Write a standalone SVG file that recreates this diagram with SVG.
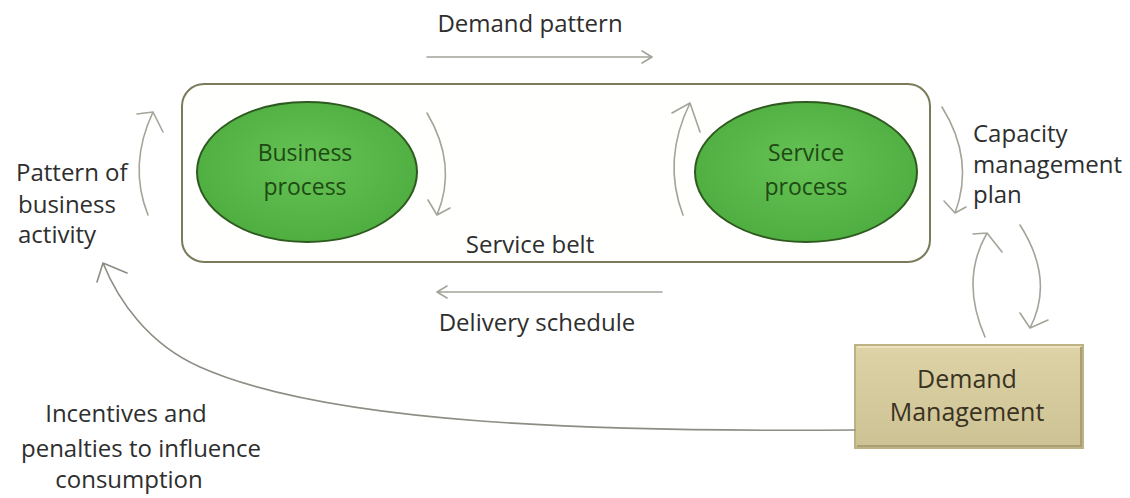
<svg xmlns="http://www.w3.org/2000/svg" width="1130" height="498" viewBox="0 0 1130 498">
<style>
.t{font-family:"Open Sans","Liberation Sans",sans-serif;font-size:24px;fill:#2e2e2e}
.g{font-family:"Open Sans","Liberation Sans",sans-serif;font-size:23px;fill:#1e4a14;text-anchor:middle}
.d{font-family:"Open Sans","Liberation Sans",sans-serif;font-size:25px;fill:#3a3322;text-anchor:middle}
.c{fill:none;stroke:#a4a49a;stroke-width:1.6;stroke-linecap:round;stroke-linejoin:round}
.l{fill:none;stroke:#8d8d84;stroke-width:1.6;stroke-linecap:round;stroke-linejoin:round}
</style>
<defs>
<radialGradient id="gr" cx="50%" cy="45%" r="55%">
<stop offset="0" stop-color="#66c255"/>
<stop offset="1" stop-color="#4fae40"/>
</radialGradient>
<linearGradient id="tan" x1="0" y1="0" x2="0" y2="1">
<stop offset="0" stop-color="#ddd3a6"/>
<stop offset="1" stop-color="#cdc294"/>
</linearGradient>
</defs>
<rect width="1130" height="498" fill="#ffffff"/>
<g id="service-belt">
<rect x="182" y="84" width="748" height="178" rx="22" fill="#fffffd" stroke="#7b7b5c" stroke-width="2"/>
<text class="t" x="530" y="253" text-anchor="middle">Service belt</text>
</g>
<g id="business-process">
<ellipse cx="307" cy="172" rx="110" ry="70" fill="url(#gr)" stroke="#2e5a20" stroke-width="2"/>
<text class="g" x="305" y="161">Business</text>
<text class="g" x="305" y="195">process</text>
</g>
<g id="service-process">
<ellipse cx="806" cy="172" rx="111" ry="70" fill="url(#gr)" stroke="#2e5a20" stroke-width="2"/>
<text class="g" x="806" y="161">Service</text>
<text class="g" x="806" y="195">process</text>
</g>
<g id="demand-management">
<rect x="855" y="345" width="228" height="103" fill="url(#tan)" stroke="#bdb284" stroke-width="2"/>
<path d="M857 347 H1081" stroke="#ece4c0" stroke-width="2" fill="none"/>
<path d="M1081 347 V446 H857" stroke="#a99f72" stroke-width="2" fill="none"/>
<text class="d" x="967" y="388">Demand</text>
<text class="d" x="967" y="421">Management</text>
</g>
<g id="labels">
<text class="t" x="530" y="32" text-anchor="middle">Demand pattern</text>
<text class="t" x="537" y="331" text-anchor="middle">Delivery schedule</text>
<text class="t" x="16" y="181">Pattern of</text>
<text class="t" x="18" y="213">business</text>
<text class="t" x="18" y="243">activity</text>
<text class="t" x="973" y="142">Capacity</text>
<text class="t" x="973" y="173">management</text>
<text class="t" x="973" y="203">plan</text>
<text class="t" x="126" y="422" text-anchor="middle">Incentives and</text>
<text class="t" x="141" y="457" text-anchor="middle">penalties to influence</text>
<text class="t" x="129" y="488" text-anchor="middle">consumption</text>
</g>
<g id="connectors">
<path class="c" d="M427 57 H652 M642 51 L652 57 L642 63"/>
<path class="c" d="M662 292 H437 M447 286 L437 292 L447 298"/>
<path class="c" d="M148 215 Q128 165 153 112 M137 114 L153 112 L163 132"/>
<path class="c" d="M427 113 Q458 165 437 215 M428 200 L437 215 L450 208"/>
<path class="c" d="M683 215 Q662 160 690 103 M672 113 L690 103 L700 132"/>
<path class="c" d="M942 107 Q975 160 955 213 M944 201 L955 213 L966 207"/>
<path class="c" d="M985 337 Q960 280 987 233 M973 234 L987 233 L1002 252"/>
<path class="c" d="M1020 225 Q1055 280 1030 328 M1020 313 L1030 328 L1048 320"/>
<path class="l" d="M855 430 C600 432 330 425 200 367 C148 344 118 300 103 263 M97 282 L103 263 L127 273"/>
</g>
</svg>
